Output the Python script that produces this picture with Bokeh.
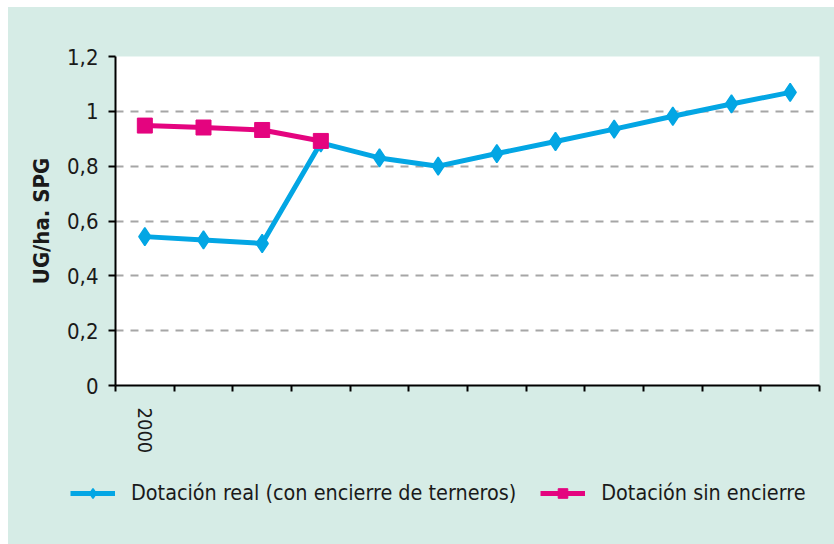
from bokeh.plotting import figure
from bokeh.layouts import column
from bokeh.models import (FixedTicker, LinearAxis, Legend, LegendItem, Range1d, Grid)
from bokeh.embed import file_html
from bokeh.resources import INLINE

# ---- data ----
categories = ["2000", "", "", "", "", "", "", "", "", "", "", ""]
real_values = [0.543, 0.531, 0.518, 0.885, 0.83, 0.80, 0.846, 0.89, 0.935, 0.982, 1.027, 1.069]
sin_values = [0.948, 0.941, 0.932, 0.892]
y_ticks = [0, 0.2, 0.4, 0.6, 0.8, 1.0, 1.2]
y_tick_labels = ["0", "0,2", "0,4", "0,6", "0,8", "1", "1,2"]
series_names = ["Dotación real (con encierre de terneros)", "Dotación sin encierre"]
y_title = "UG/ha. SPG"

BG = "#d6ece6"
BLUE = "#03a6e4"
PINK = "#e4047f"
FONT = "DejaVu Sans Condensed"

n = len(categories)
xc = [i + 0.5 for i in range(n)]
xs2 = xc[:len(sin_values)]

p = figure(frame_width=704, frame_height=329, output_backend="svg", toolbar_location=None,
           x_range=Range1d(0, n), y_range=Range1d(0, 1.2),
           background_fill_color="white", border_fill_color=BG,
           outline_line_color=None, frame_align=False,
           min_border_left=107, min_border_right=15, min_border_top=49, min_border_bottom=83,
           x_axis_type=None, y_axis_type=None)

# y axis
yax = LinearAxis(ticker=FixedTicker(ticks=y_ticks))
yax.major_label_overrides = {t: l for t, l in zip(y_ticks, y_tick_labels)}
yax.axis_line_width = 2
yax.axis_line_color = "black"
yax.major_tick_line_width = 2
yax.major_tick_out = 7
yax.major_tick_in = 0
yax.minor_tick_line_color = None
yax.major_label_text_font = FONT
yax.major_label_text_font_size = "22px"
yax.major_label_text_color = "#1a1a1a"
yax.major_label_standoff = 10
yax.axis_label = y_title
yax.axis_label_text_font = FONT
yax.axis_label_text_font_style = "bold"
yax.axis_label_text_font_size = "22px"
yax.axis_label_text_color = "#1a1a1a"
yax.axis_label_standoff = 10
p.add_layout(yax, "left")

# x axis with tick marks at category boundaries
xax = LinearAxis(ticker=FixedTicker(ticks=list(range(n + 1))))
xax.major_label_overrides = {i: "" for i in range(n + 1)}
xax.axis_line_width = 2
xax.axis_line_color = "black"
xax.major_tick_line_width = 2
xax.major_tick_out = 6
xax.major_tick_in = 0
xax.minor_tick_line_color = None
xax.major_label_text_font_size = "1px"
xax.major_label_standoff = 0
p.add_layout(xax, "below")

# x labels at category centers
xlab = LinearAxis(ticker=FixedTicker(ticks=xc))
xlab.major_label_overrides = {c: l for c, l in zip(xc, categories)}
xlab.axis_line_color = None
xlab.major_tick_line_color = None
xlab.minor_tick_line_color = None
xlab.major_label_orientation = "vertical"
xlab.major_label_text_font = FONT
xlab.major_label_text_font_size = "20px"
xlab.major_label_text_color = "#1a1a1a"
xlab.major_label_standoff = 10
p.add_layout(xlab, "below")

# grid
ygrid = Grid(dimension=1, ticker=FixedTicker(ticks=y_ticks),
             grid_line_color="#a6a6a6", grid_line_width=2, grid_line_dash="8 7")
p.add_layout(ygrid, "center")

# series
r1l = p.line(xc, real_values, line_color=BLUE, line_width=5)
r1m = p.scatter(xc, real_values, marker="diamond", size=18, fill_color=BLUE, line_color=BLUE,
                line_width=1.5)
r2l = p.line(xs2, sin_values, line_color=PINK, line_width=5)
r2m = p.scatter(xs2, sin_values, marker="square", size=15, fill_color=PINK, line_color=PINK)

# legend strip (separate figure; its series copies lie outside its visible range)
q = figure(width=826, height=76, output_backend="svg", toolbar_location=None,
           x_range=Range1d(0, 1), y_range=Range1d(50, 51),
           background_fill_alpha=0, border_fill_alpha=0, outline_line_color=None,
           frame_align=False,
           min_border=0, min_border_left=0, min_border_right=0,
           min_border_top=0, min_border_bottom=0,
           x_axis_type=None, y_axis_type=None)
l1 = q.line(xc, real_values, line_color=BLUE, line_width=5)
m1 = q.scatter(xc, real_values, marker="diamond", size=18, fill_color=BLUE, line_color=BLUE,
               line_width=1.5)
l2 = q.line(xs2, sin_values, line_color=PINK, line_width=5)
m2 = q.scatter(xs2, sin_values, marker="square", size=15, fill_color=PINK, line_color=PINK)

legend = Legend(items=[LegendItem(label=series_names[0], renderers=[l1, m1]),
                       LegendItem(label=series_names[1], renderers=[l2, m2])],
                orientation="horizontal", location=(62, 39),
                background_fill_alpha=0, border_line_color=None,
                padding=0, margin=0, spacing=24,
                glyph_width=45, glyph_height=24, label_standoff=16,
                label_text_font=FONT, label_text_font_size="21.4px",
                label_text_color="#1a1a1a", label_height=24)
q.add_layout(legend, "center")

layout = column(p, q, spacing=0,
                styles={"background-color": BG, "margin-left": "8px", "margin-top": "7px"})
open("out.html", "w").write(file_html(layout, INLINE))
